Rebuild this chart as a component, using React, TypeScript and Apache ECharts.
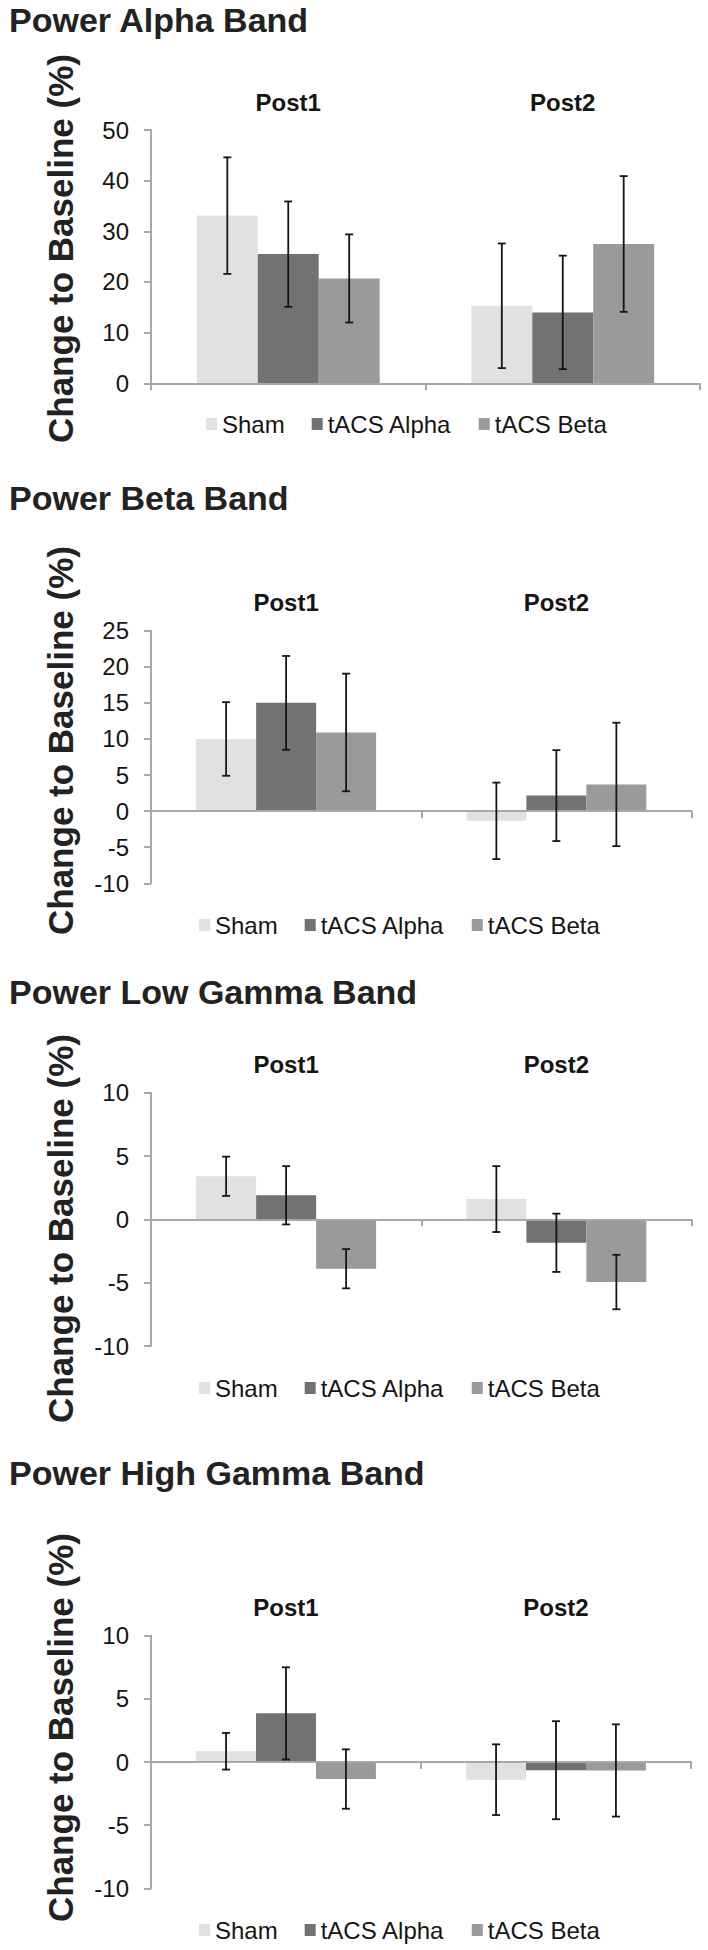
import React, { useEffect, useRef } from "react";
import * as echarts from "echarts";

// ---------- DATA ----------
const categories = ["Post1", "Post2"];
const seriesNames = ["Sham", "tACS Alpha", "tACS Beta"];
const panelTitles = ["Power Alpha Band", "Power Beta Band", "Power Low Gamma Band", "Power High Gamma Band"];
const yAxisTitle = "Change to Baseline (%)";

// rows: Sham, tACS Alpha, tACS Beta ; columns: Post1, Post2
const alphaMeans = [[33.1, 15.3], [25.5, 14.0], [20.7, 27.5]];
const alphaErrors = [[11.5, 12.3], [10.4, 11.2], [8.7, 13.4]];
const betaMeans = [[10.0, -1.35], [15.0, 2.15], [10.9, 3.7]];
const betaErrors = [[5.1, 5.3], [6.5, 6.3], [8.15, 8.55]];
const lowGammaMeans = [[3.4, 1.6], [1.9, -1.85], [-3.9, -4.95]];
const lowGammaErrors = [[1.55, 2.6], [2.3, 2.3], [1.55, 2.15]];
const highGammaMeans = [[0.85, -1.4], [3.85, -0.65], [-1.35, -0.67]];
const highGammaErrors = [[1.45, 2.8], [3.65, 3.88], [2.35, 3.65]];

const yMins = [0, -10, -10, -10];
const yMaxs = [50, 25, 10, 10];
const yIntervals = [10, 5, 5, 5];

// ---------- STYLE / LAYOUT ----------
const colors = ["#e1e1e1", "#727272", "#9a9a9a"];
const FONT = "'Liberation Sans', Arial, Helvetica, sans-serif";
const TEXT = "#151515";
const AXIS = "#a8a8a8";
const GAP = 0.334;

const gridLayout = [
  { top: 130, height: 253.3, right: 8 },
  { top: 630.7, height: 252.6, right: 16.5 },
  { top: 1092.7, height: 253.3, right: 16.5 },
  { top: 1635.7, height: 252.6, right: 17 },
];
const titleY = [19.5, 498.3, 991.7, 1473.3];
const yTitleBottom = [443, 935, 1423, 1922];
const legendY = [424, 925, 1388, 1930];
const legendLeft = [201, 194, 194, 194];

export default function App() {
  const ref = useRef<HTMLDivElement>(null);

  useEffect(() => {
    if (!ref.current) return;
    const chart = echarts.init(ref.current, undefined, { renderer: "svg" });

    const means = [alphaMeans, betaMeans, lowGammaMeans, highGammaMeans];
    const errors = [alphaErrors, betaErrors, lowGammaErrors, highGammaErrors];

    const grids: any[] = [];
    const xAxes: any[] = [];
    const yAxes: any[] = [];
    const series: any[] = [];
    const legends: any[] = [];
    const graphics: any[] = [];

    for (let p = 0; p < 4; p++) {
      const g = gridLayout[p];
      grids.push({ left: 151, right: g.right, top: g.top, height: g.height, containLabel: false });
      xAxes.push({
        type: "category",
        gridIndex: p,
        data: categories,
        position: "bottom",
        z: 3,
        axisLine: { onZero: true, lineStyle: { color: AXIS, width: 2 } },
        axisTick: { show: true, inside: false, length: 7, lineStyle: { color: AXIS, width: 2 } },
        axisLabel: { show: false },
        splitLine: { show: false },
      });
      xAxes.push({
        type: "category",
        gridIndex: p,
        data: categories,
        position: "top",
        axisLine: { show: false, onZero: false },
        axisTick: { show: false },
        axisLabel: { show: true, margin: 16, fontSize: 24, fontWeight: "bold", color: TEXT, fontFamily: FONT },
        splitLine: { show: false },
      });
      yAxes.push({
        type: "value",
        gridIndex: p,
        min: yMins[p],
        max: yMaxs[p],
        interval: yIntervals[p],
        axisLine: { show: true, lineStyle: { color: AXIS, width: 2 } },
        axisTick: { show: true, inside: false, length: 7, lineStyle: { color: AXIS, width: 2 } },
        axisLabel: { margin: 22, fontSize: 24, color: TEXT, fontFamily: FONT },
        splitLine: { show: false },
      });

      for (let k = 0; k < 3; k++) {
        series.push({
          type: "bar",
          name: seriesNames[k],
          xAxisIndex: 2 * p,
          yAxisIndex: p,
          data: means[p][k],
          barGap: "0%",
          barCategoryGap: GAP * 100 + "%",
          itemStyle: { color: colors[k] },
          z: 2,
        });
      }
      for (let k = 0; k < 3; k++) {
        const data = categories.map((_, i) => [i, means[p][k][i] - errors[p][k][i], means[p][k][i] + errors[p][k][i]]);
        series.push({
          type: "custom",
          name: seriesNames[k] + " error",
          xAxisIndex: 2 * p,
          yAxisIndex: p,
          z: 5,
          data,
          encode: { x: 0, y: [1, 2] },
          renderItem: (params: any, api: any) => {
            const idx = api.value(0);
            const lo = api.coord([idx, api.value(1)]);
            const hi = api.coord([idx, api.value(2)]);
            const catW = api.size([1, 0])[0];
            const barW = (catW * (1 - GAP)) / 3;
            const x = lo[0] + (k - 1) * barW;
            const cap = 4;
            const st = { stroke: "#151515", lineWidth: 1.8 };
            return {
              type: "group",
              children: [
                { type: "line", shape: { x1: x, y1: hi[1], x2: x, y2: lo[1] }, style: st },
                { type: "line", shape: { x1: x - cap, y1: hi[1], x2: x + cap, y2: hi[1] }, style: st },
                { type: "line", shape: { x1: x - cap, y1: lo[1], x2: x + cap, y2: lo[1] }, style: st },
              ],
            };
          },
        });
      }

      legends.push({
        show: true,
        data: seriesNames,
        left: legendLeft[p],
        top: legendY[p] - 17,
        orient: "horizontal",
        icon: "rect",
        itemWidth: 11,
        itemHeight: 12,
        itemGap: 27,
        selectedMode: false,
        textStyle: { fontSize: 24, color: TEXT, fontFamily: FONT },
      });

      graphics.push({
        type: "text",
        x: 9,
        y: titleY[p],
        style: {
          text: panelTitles[p],
          fontSize: 34,
          fontWeight: "bold",
          fontFamily: FONT,
          fill: "#222222",
          textAlign: "left",
          align: "left",
          textVerticalAlign: "middle",
          verticalAlign: "middle",
        },
      });
      graphics.push({
        type: "text",
        x: 60,
        y: yTitleBottom[p],
        rotation: Math.PI / 2,
        style: {
          text: yAxisTitle,
          fontSize: 35,
          fontWeight: "bold",
          fontFamily: FONT,
          fill: "#222222",
          textAlign: "left",
          align: "left",
          textVerticalAlign: "middle",
          verticalAlign: "middle",
        },
      });
    }

    chart.setOption({
      animation: false,
      backgroundColor: "#ffffff",
      grid: grids,
      xAxis: xAxes,
      yAxis: yAxes,
      legend: legends,
      series,
      graphic: { elements: graphics },
    });

    return () => chart.dispose();
  }, []);

  return (
    <div
      ref={ref}
      style={{ position: "absolute", left: 0, top: 0, width: 708, height: 1950, background: "#fff" }}
    />
  );
}
